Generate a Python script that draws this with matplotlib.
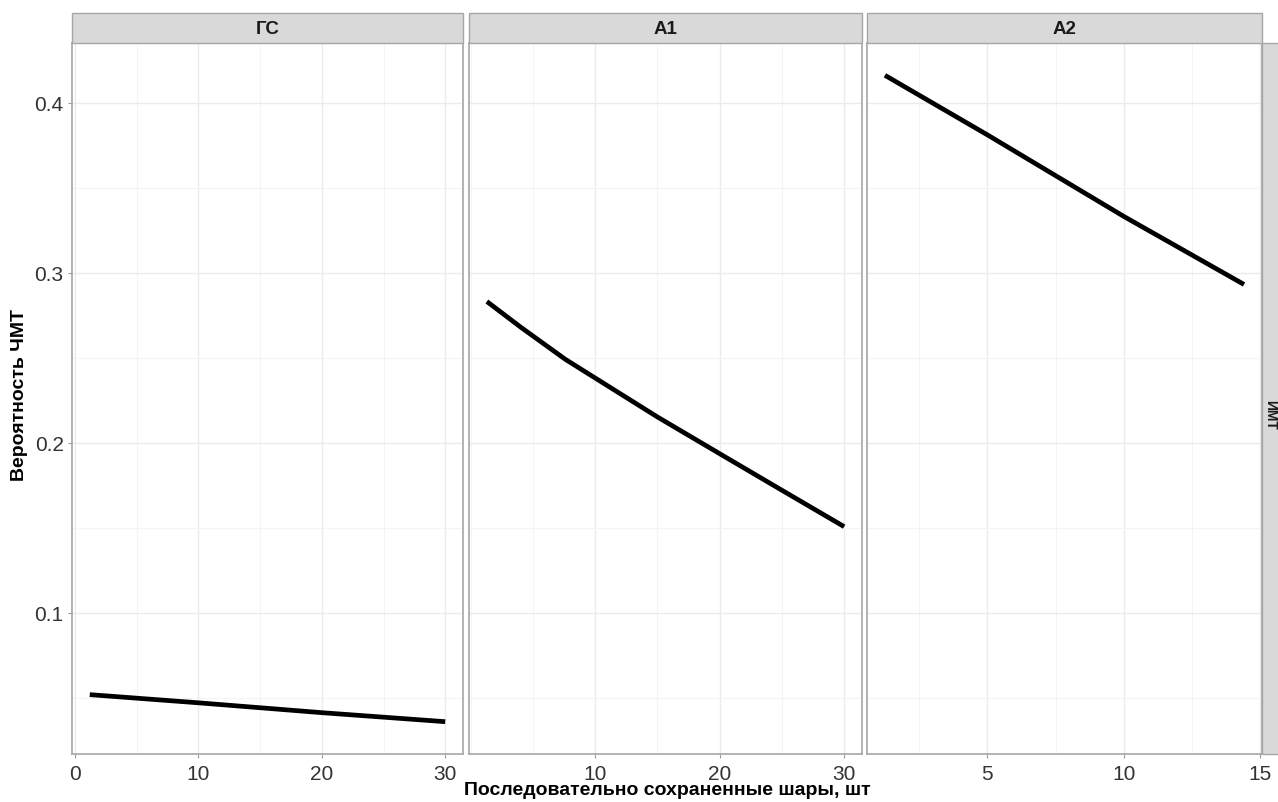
import matplotlib
matplotlib.use('Agg')
import matplotlib.pyplot as plt
from matplotlib.patches import Rectangle
from matplotlib.ticker import MultipleLocator

plt.rcParams['font.family'] = ['Liberation Sans', 'DejaVu Sans']

# Facets and smoothed curves
panels = ['ГС', 'А1', 'А2']
x_gs = [1.2, 10, 20, 30]
y_gs = [0.0518, 0.047, 0.0412, 0.0359]
x_a1 = [1.3, 4, 7.6, 10, 15, 20, 25, 30]
y_a1 = [0.283, 0.268, 0.249, 0.238, 0.2151, 0.1935, 0.172, 0.1506]
x_a2 = [1.25, 5, 10, 14.4]
y_a2 = [0.416, 0.381, 0.333, 0.293]
xticks = [[0, 10, 20, 30], [10, 20, 30], [5, 10, 15]]
yticks = [0.1, 0.2, 0.3, 0.4]
row_label = 'ИМТ'

xs = [x_gs, x_a1, x_a2]
ys = [y_gs, y_a1, y_a2]


def expand(lo, hi, frac=0.05):
    d = (hi - lo) * frac
    return lo - d, hi + d


fig = plt.figure(figsize=(12.78, 8.03), dpi=100)
W, H = 1278, 803
lefts = [72, 469, 867]
rights = [463, 862, 1262]
top, bottom = 44, 755
strip_top = 14

ymin = min(min(v) for v in ys)
ymax = max(max(v) for v in ys)
ylim = expand(ymin, ymax)

border = '#a6a6a6'
for i in range(3):
    ax = fig.add_axes([lefts[i] / W, 1 - bottom / H, (rights[i] - lefts[i]) / W, (bottom - top) / H])
    ax.set_xlim(expand(min(xs[i]), max(xs[i])))
    ax.set_ylim(ylim)
    ax.set_xticks(xticks[i])
    ax.xaxis.set_minor_locator(MultipleLocator(5 if i < 2 else 2.5))
    ax.yaxis.set_minor_locator(MultipleLocator(0.05))
    ax.set_yticks(yticks)
    ax.grid(which='major', color='#ebebeb', linewidth=1.0)
    ax.grid(which='minor', color='#f4f4f4', linewidth=0.8)
    ax.set_axisbelow(True)
    ax.plot(xs[i], ys[i], color='black', linewidth=3.4, solid_capstyle='butt')
    for s in ax.spines.values():
        s.set_color(border)
        s.set_linewidth(1.2)
    ax.tick_params(which='major', length=3, color='#999999', labelsize=15, labelcolor='#333333', pad=3)
    ax.tick_params(axis='x', pad=4)
    ax.tick_params(which='minor', length=0)
    if i > 0:
        ax.tick_params(axis='y', labelleft=False, length=0)
    else:
        ax.set_yticklabels([str(t) for t in yticks])

    # strip on top
    fig.patches.append(Rectangle((lefts[i] / W, 1 - top / H), (rights[i] - lefts[i]) / W,
                                 (top - strip_top) / H, transform=fig.transFigure,
                                 facecolor='#d9d9d9', edgecolor=border, linewidth=1.0))
    fig.text((lefts[i] + rights[i]) / 2 / W, 1 - (top + strip_top) / 2 / H, panels[i],
             ha='center', va='center', fontsize=13.5, fontweight='bold', color='#1a1a1a')

# right-hand strip, mostly cut off by the edge of the picture
fig.patches.append(Rectangle((1262 / W, 1 - bottom / H), 20 / W, (bottom - top) / H,
                             transform=fig.transFigure, facecolor='#d9d9d9',
                             edgecolor=border, linewidth=1.0))
fig.text(1270.5 / W, 1 - 415 / H, row_label, rotation=-90, ha='center', va='center',
         fontsize=10, fontweight='bold', color='#1a1a1a')

fig.text(667 / W, 1 - 791 / H, 'Последовательно сохраненные шары, шт',
         ha='center', va='center', fontsize=14, fontweight='bold')
fig.text(20 / W, 1 - 395 / H, 'Вероятность ЧМТ', rotation=90,
         ha='center', va='center', fontsize=14, fontweight='bold')

fig.savefig('out.png', dpi=100, facecolor='white')
